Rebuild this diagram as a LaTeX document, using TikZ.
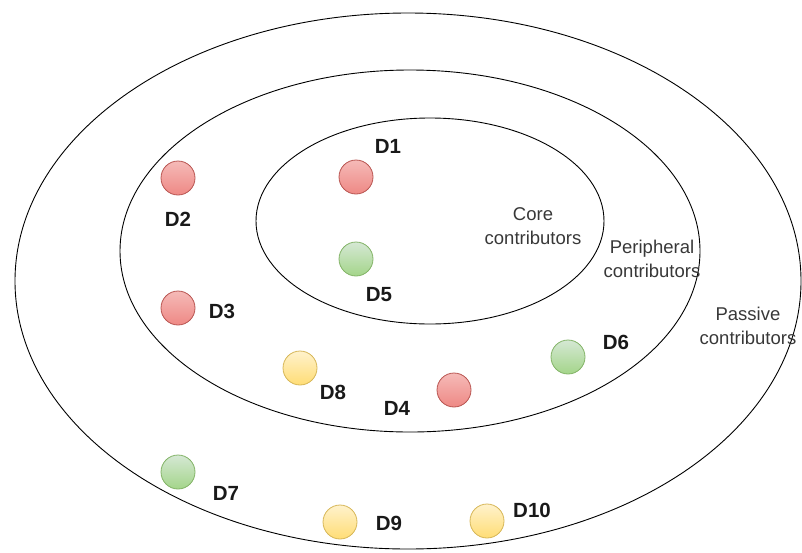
\documentclass[tikz,border=0pt]{standalone}
\usepackage{fontspec}
\setmainfont{Liberation Sans}
\definecolor{redfill}{HTML}{F8CECC}
\definecolor{redgrad}{HTML}{EA6B66}
\definecolor{redline}{HTML}{B85450}
\definecolor{greenfill}{HTML}{D5E8D4}
\definecolor{greengrad}{HTML}{97D077}
\definecolor{greenline}{HTML}{82B366}
\definecolor{yelfill}{HTML}{FFF2CC}
\definecolor{yelgrad}{HTML}{FFD966}
\definecolor{yelline}{HTML}{D6B656}
\tikzset{
  ring/.style={draw=black, line width=0.9pt},
  dev/.style={circle, minimum size=34pt, inner sep=0pt, line width=0.8pt},
  reddev/.style={dev, draw=redline, top color=redfill!80!redgrad, bottom color=redgrad!70!redfill},
  greendev/.style={dev, draw=greenline, top color=greenfill, bottom color=greengrad!80!greenfill},
  yeldev/.style={dev, draw=yelline, top color=yelfill, bottom color=yelgrad!85!yelfill},
  lab/.style={font=\fontsize{20.5}{24}\selectfont\bfseries, text=black!90},
  area/.style={font=\fontsize{18.5}{23.5}\selectfont, text=black!78, align=center},
}
\begin{document}
\begin{tikzpicture}[x=1pt,y=-1pt]
\useasboundingbox (0,0) rectangle (802,552);
\draw[ring] (408,281) ellipse [x radius=393, y radius=268];
\draw[ring] (410,251) ellipse [x radius=290, y radius=181];
\draw[ring] (430,221) ellipse [x radius=174, y radius=103];

\node[area] (core) at (533,226) {Core\\contributors};
\node[area] (peri) at (652,259) {Peripheral\\contributors};
\node[area] (pass) at (748,326) {Passive\\contributors};

\node[reddev] (c1) at (356,177) {};
\node[lab] (l1) at (388,146) {D1};
\node[reddev] (c2) at (178,178) {};
\node[lab] (l2) at (178,219) {D2};
\node[greendev] (c5) at (356,259) {};
\node[lab] (l5) at (379,295) {D5};
\node[reddev] (c3) at (178,308) {};
\node[lab] (l3) at (222,311) {D3};
\node[yeldev] (c8) at (300,368) {};
\node[lab] (l8) at (333,392) {D8};
\node[reddev] (c4) at (454,390) {};
\node[lab] (l4) at (397,408) {D4};
\node[greendev] (c6) at (568,357) {};
\node[lab] (l6) at (616,342) {D6};
\node[greendev] (c7) at (178,472) {};
\node[lab] (l7) at (226,493) {D7};
\node[yeldev] (c9) at (340,522) {};
\node[lab] (l9) at (389,523) {D9};
\node[yeldev] (c10) at (487,521) {};
\node[lab] (l10) at (532,510) {D10};
\end{tikzpicture}
\end{document}
